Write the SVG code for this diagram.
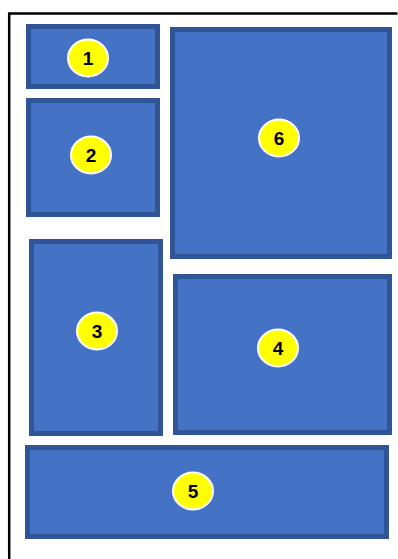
<svg xmlns="http://www.w3.org/2000/svg" width="398" height="559" viewBox="0 0 398 559">
<style>
.box{fill:#4472C4;stroke:#2F5597;stroke-width:5}
.badge{fill:#FFFF00;stroke:#FFFFFF;stroke-width:2}
.num{font-family:"Liberation Sans",Arial,sans-serif;font-weight:bold;font-size:19px;fill:#000;text-anchor:middle;dominant-baseline:central}
</style>
<rect width="398" height="559" fill="#fff"/>
<g id="frame" fill="none" stroke="#000" stroke-width="2.5">
<path d="M9.2 560 V13.6 H397.5"/>
</g>
<g id="connectors"></g>
<g id="n1"><rect class="box" x="28.5" y="26.5" width="129" height="60"/><ellipse class="badge" cx="88" cy="58" rx="20" ry="18.5"/><text class="num" x="88" y="58">1</text></g>
<g id="n2"><rect class="box" x="28.5" y="100.5" width="129" height="114"/><ellipse class="badge" cx="91" cy="155" rx="20" ry="18.5"/><text class="num" x="91" y="155">2</text></g>
<g id="n3"><rect class="box" x="31.5" y="241.5" width="129" height="192"/><ellipse class="badge" cx="97" cy="331" rx="20" ry="18.5"/><text class="num" x="97" y="331">3</text></g>
<g id="n4"><rect class="box" x="175.5" y="276.5" width="214" height="156"/><ellipse class="badge" cx="278" cy="348" rx="20" ry="18.5"/><text class="num" x="278" y="348">4</text></g>
<g id="n5"><rect class="box" x="27.5" y="447.5" width="359" height="89"/><ellipse class="badge" cx="193" cy="491" rx="20" ry="18.5"/><text class="num" x="193" y="491">5</text></g>
<g id="n6"><rect class="box" x="172.5" y="29.5" width="217" height="227"/><ellipse class="badge" cx="279" cy="138" rx="20" ry="18.5"/><text class="num" x="279" y="138">6</text></g>
</svg>
